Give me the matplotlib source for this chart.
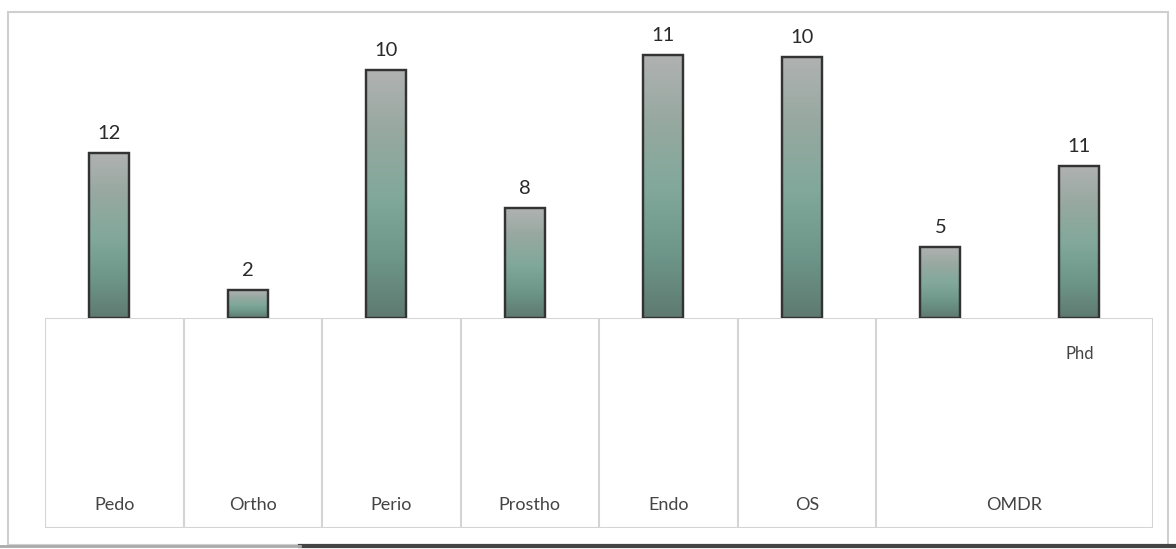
import matplotlib
matplotlib.use("Agg")
import matplotlib.pyplot as plt
import numpy as np
from matplotlib.colors import LinearSegmentedColormap
from matplotlib.lines import Line2D
from matplotlib.patches import Rectangle

plt.rcParams['font.family'] = ['Lato', 'DejaVu Sans']

# ---- data ----
groups = ["Pedo", "Ortho", "Perio", "Prostho", "Endo", "OS", "OMDR"]
group_spans = [1, 1, 1, 1, 1, 1, 2]          # number of bars under each group
sub_labels = ["", "", "", "", "", "", "", "Phd"]
value_labels = [12, 2, 10, 8, 11, 10, 5, 11]  # printed data labels
# drawn bar heights as they appear in the scan (arbitrary units)
bar_heights = [165, 28, 248, 110, 263, 261, 71, 152]

W, H = 1176, 549
fig = plt.figure(figsize=(W / 100, H / 100), dpi=100)
fig.patch.set_facecolor("white")

def fx(px):
    return px / W

def fy(py):
    return (H - py) / H

left_px, right_px = 45, 1153
base_px, top_px, table_bottom_px = 318, 12, 528

ax = fig.add_axes([fx(left_px), fy(base_px), fx(right_px - left_px),
                   (base_px - top_px) / H])
n = len(bar_heights)
x = np.arange(n) - 0.035
ax.set_xlim(-0.5, n - 0.5)
ax.set_ylim(0, base_px - top_px)
ax.axis("off")

cmap = LinearSegmentedColormap.from_list(
    "g", ["#5f7a70", "#6e978a", "#82a99b", "#97a8a1", "#b0b2b1"])
grad = np.linspace(0, 1, 256).reshape(-1, 1)
bw = 0.29
bars = ax.bar(x, bar_heights, width=bw, color="none", edgecolor="#333333",
              linewidth=1.6, zorder=3)
for b, h in zip(bars, bar_heights):
    x0 = b.get_x()
    im = ax.imshow(grad, cmap=cmap, aspect="auto", origin="lower",
                   extent=[x0, x0 + bw, 0, h], zorder=2)
    im.set_clip_path(b)
    rect = Rectangle((x0, 0), bw, h, fill=False, edgecolor="#333333",
                     linewidth=1.6, zorder=4)
    ax.add_patch(rect)
for xi, h, v in zip(x, bar_heights, value_labels):
    ax.annotate(str(v), (xi, h), xytext=(0, 8), textcoords="offset points",
                ha="center", va="bottom", fontsize=14.5, color="#2a2a2a")
ax.set_xlim(-0.5, n - 0.5)

# ---- multi-level category table ----
tax = fig.add_axes([fx(left_px), fy(table_bottom_px), fx(right_px - left_px),
                    (table_bottom_px - base_px) / H])
tax.set_xlim(-0.5, n - 0.5)
tax.set_ylim(0, 1)
tax.axis("off")
line_c = "#d4d4d4"
tax.add_line(Line2D([-0.5, n - 0.5], [1, 1], color=line_c, lw=1.5))
tax.add_line(Line2D([-0.5, n - 0.5], [0, 0], color=line_c, lw=1.5))
pos = -0.5
tax.add_line(Line2D([pos, pos], [0, 1], color=line_c, lw=1.5))
for g, span in zip(groups, group_spans):
    tax.text(pos + span / 2, 0.11, g, ha="center", va="center", fontsize=13,
             color="#444444")
    pos += span
    tax.add_line(Line2D([pos, pos], [0, 1], color=line_c, lw=1.5))
for i, s in enumerate(sub_labels):
    if s:
        tax.text(i - 0.03, 0.83, s, ha="center", va="center", fontsize=12,
                 color="#444444")

# ---- outer chart frame and scan shadow ----
fig.add_artist(Rectangle((fx(8), fy(545)), fx(1160), (545 - 12) / H,
                         fill=False, edgecolor="#cfcfcf", lw=1.5,
                         transform=fig.transFigure))
fig.add_artist(Line2D([fx(300), fx(1176)], [fy(546), fy(546)],
                      color="#444444", lw=3, transform=fig.transFigure))
fig.add_artist(Line2D([fx(0), fx(300)], [fy(546), fy(546)],
                      color="#aaaaaa", lw=2, transform=fig.transFigure))

fig.savefig("out.png", dpi=100, facecolor="white")
